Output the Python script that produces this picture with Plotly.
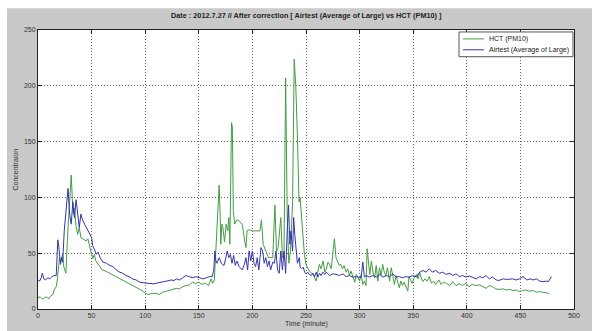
import plotly.graph_objects as go

# ---------------- data ----------------
hct_t = [0, 2, 4, 6, 8, 10, 12, 14, 15, 17, 18, 20, 21, 23, 24, 26, 27, 28, 29.5, 31, 32, 33, 34, 35.5, 37, 38.5,
         40, 42, 45, 46.5, 48, 50, 51, 52.5, 54, 57, 60, 63, 67, 70, 73, 76, 79, 82, 85, 88, 91, 94, 98, 100,
         103, 106, 110, 113, 116, 120, 124, 129, 132, 135, 138, 141, 144, 147, 150, 153, 156, 159, 161.5, 163,
         164.5, 166, 168, 169, 170, 170.5, 171.5, 172.5, 174, 175.5, 177, 178, 179, 180.5, 181.3, 182.2, 183.5,
         185.5, 187.5, 190.5, 193, 194, 195, 197, 200, 203, 207, 208.5, 210, 212.5, 215, 219, 221, 222.5, 224,
         226.5, 228, 229.5, 231, 232.5, 234, 235.5, 237.5, 239, 240.5, 242, 243.5, 244.5, 245.5, 247, 248.5,
         250, 251.5, 253, 256.5, 258, 259.5, 261, 262.5, 264, 266, 267.5, 269, 270.5, 272, 273.5, 275, 276.5,
         278, 279.5, 281, 282.5, 284, 285.5, 287.5, 289, 290.5, 292, 294, 295.5, 297, 298.5, 300, 301.5, 303,
         304.5, 306, 307, 308, 309.5, 311, 312.5, 314, 315.5, 317, 318.5, 320, 321.5, 323, 324.5, 326, 328,
         329.5, 331, 332.5, 334, 335.5, 337, 338.5, 340, 341.5, 343.5, 345, 346, 347.5, 349, 351, 353, 354.5,
         356, 357.5, 359, 361, 363, 365, 367, 369, 371, 374, 376, 378, 381, 384, 387, 390, 393, 396, 399, 402,
         405, 408, 412, 415, 418, 421, 424, 427, 430, 434, 437, 440, 443, 446, 449, 452, 455, 458, 462, 465,
         468, 471, 474, 477]
hct_v = [10, 11, 9, 10, 11, 9, 12, 13, 17, 20, 26, 46, 42, 49, 38, 32, 55, 73, 96, 120, 99, 85, 90, 74, 67, 73,
         64, 63, 61, 63, 58, 49, 45, 49, 43, 39, 35, 34, 32, 30, 29, 27, 26, 24, 23, 21, 20, 18, 16, 14,
         13, 14, 14, 13, 15, 16, 17, 18.5, 18, 20, 21, 21.5, 24, 23, 24, 22, 23, 21, 27, 23,
         26, 53, 82, 111, 82, 58, 76, 73, 60, 76, 70, 82, 58, 167, 163, 88, 76,
         80, 79, 76, 60, 55, 70, 71, 70, 70, 70, 80, 58, 52, 46, 46, 93, 52, 55,
         82, 46, 52, 207, 82, 41, 52, 96, 224, 199, 155, 96, 100, 85, 70, 49,
         40, 37, 34, 31, 28, 25, 33, 40, 36, 43, 33, 36, 42, 40, 36, 52, 63,
         46, 43, 39, 40, 36, 39, 33, 36, 30, 34, 28, 24, 31, 28, 25, 31, 22,
         25, 21, 54, 43, 31, 43, 33, 28, 39, 25, 37, 30, 40, 33, 30, 37, 25,
         37, 28, 22, 30, 24, 19, 25, 21, 24, 19, 16, 29, 26, 23, 28, 31, 27,
         33, 28, 24.5, 27, 25, 29, 23, 25, 22, 26, 22, 24, 23, 21, 24.5, 21, 22.5, 21, 23, 20,
         22, 21, 21.5, 20, 18.5, 21, 20, 18, 17.6, 18, 17, 17.6, 16.5, 17, 15.6, 16.5, 17, 16, 16.5, 15,
         15.6, 15, 14.7, 13.5]

air_t = [0, 1.5, 3, 4, 5.5, 7, 9, 11, 13, 15, 17, 18.5, 19.5, 21, 22, 23, 24.5, 26, 28, 29.5, 31, 32.5, 34, 35.5,
         37, 38.5, 40, 41.5, 43.5, 45, 46.5, 48, 50, 51, 53, 54.5, 56, 58, 60.5, 64, 67, 70, 73, 76, 79, 82,
         85, 88, 91.5, 95, 98, 101, 105, 108, 112, 116, 120, 124, 127, 129, 132, 135, 138, 141, 144, 147.5,
         151, 154, 157, 160, 162.5, 164, 165, 166, 167, 169, 171, 173.5, 175, 176.5, 178, 179.5, 181, 182.5,
         184, 185.5, 187.5, 190.5, 192.5, 194, 195.5, 197, 198.5, 200, 201.5, 203, 204.5, 206, 208, 209.5,
         211, 212.5, 214, 215.5, 217, 219, 220.5, 222, 223.5, 225, 226.5, 228, 229.5, 231, 232.5, 233.7, 235,
         236, 237.5, 238.5, 239.5, 240.6, 242, 243.7, 244.5, 246, 247.5, 248.7, 250, 251.5, 253, 255, 256.5,
         258, 259.6, 261, 262.7, 264, 265.8, 267.5, 269, 272, 275, 278, 281, 284.5, 287.5, 290.5, 293.8, 297,
         300, 301.5, 303, 304.5, 306, 309, 312.4, 315.5, 318.6, 321.7, 325, 328, 331, 334, 337, 340, 343, 346,
         349.7, 353, 356, 359, 362, 365, 368, 371, 374.5, 377.5, 380.7, 384, 387, 390, 393, 396, 399, 402.5,
         405.6, 409, 412, 415, 418, 421, 424, 427.5, 430, 434, 437, 440, 443, 446, 449, 452.5, 456, 459, 462,
         465, 468, 471, 474, 476, 479]
air_v = [26, 25, 28, 32, 27, 26, 28, 27, 29, 30, 30, 62, 55, 40, 46, 42, 70, 90, 108, 85, 76, 96, 82, 98,
         85, 73, 85, 80, 76, 73, 70, 68, 64, 57, 52, 49, 51, 46, 42, 41, 39, 38, 35, 33, 32, 30,
         29, 27, 26, 24, 23.5, 23, 23, 22.5, 23.5, 24, 25, 26, 25.5, 27, 26, 28, 30, 29, 28, 29,
         28, 27, 28, 29, 29, 35, 52, 43, 41, 46, 41, 39, 45, 52, 46, 49, 41, 48,
         39, 43, 38, 35, 40, 46, 35, 52, 43, 52, 41, 38, 46, 35, 55, 52,
         41, 46, 38, 43, 35, 42, 41, 52, 35, 32, 52, 35, 52, 32, 70, 93, 58,
         70, 52, 82, 67, 52, 41, 46, 37.5, 36, 37.5, 33, 31.5, 33, 31, 30, 32,
         29, 33, 28.6, 32, 30, 33, 31, 33, 30, 31.5, 31, 30, 31.5, 29, 30, 28.6, 29,
         28, 28.6, 42, 28.6, 30, 28.6, 30, 28.6, 31, 28.6, 30, 29, 31.5, 28.6, 29, 28, 29, 28.6,
         30, 28.6, 33, 34.5, 33, 36, 33, 34.5, 32, 33, 31, 32, 30, 31.5, 29, 30, 28.6, 29.5,
         28.6, 27, 29, 28, 30, 27, 28.6, 26, 25.6, 27, 26.5, 26.5, 27, 26, 27, 29, 26, 27, 26,
         27, 25, 24.5, 25, 24.5, 29]

x_ticks = [0, 50, 100, 150, 200, 250, 300, 350, 400, 450, 500]
y_ticks = [0, 50, 100, 150, 200, 250]

series_names = ["HCT (PM10)", "Airtest (Average of Large)"]
series_colors = ["#449c44", "#3434aa"]

title_text = "Date : 2012.7.27 // After correction [ Airtest (Average of Large) vs HCT (PM10) ]"
x_label = "Time (minute)"
y_label = "Concentraion"

# ---------------- figure ----------------
W, H = 592, 331
L, R, T, B = 38, 18, 30, 19
pw, ph = W - L - R, H - T - B
FONT = "Liberation Sans"


def px_x(p):
    return (p - L) / pw


def px_y(p):
    return (H - B - p) / ph


fig = go.Figure()
for tx, vy, nm, col in [(hct_t, hct_v, series_names[0], series_colors[0]),
                        (air_t, air_v, series_names[1], series_colors[1])]:
    fig.add_trace(go.Scatter(x=tx, y=vy, mode="lines", name=nm,
                             line=dict(color=col, width=1)))

gray = "#c9c9c9"
axis_common = dict(showline=True, linecolor="#222", linewidth=1, mirror="ticks",
                   ticks="inside", ticklen=4, tickcolor="#222",
                   showgrid=True, gridcolor="#666", griddash="1px,2px", gridwidth=1,
                   zeroline=False, tickfont=dict(family=FONT, size=7, color="#333"))

fig.update_layout(
    width=W, height=H,
    margin=dict(l=L, r=R, t=T, b=B, pad=0),
    paper_bgcolor=gray, plot_bgcolor="white",
    showlegend=False,
    xaxis=dict(range=[0, 500], tickvals=x_ticks, **axis_common),
    yaxis=dict(range=[0, 250], tickvals=y_ticks, **axis_common),
    font=dict(family=FONT),
)

# white outer border strips (top and left)
fig.add_shape(type="rect", xref="paper", yref="paper", x0=px_x(-5), x1=px_x(W + 5),
              y0=px_y(8), y1=px_y(-5), fillcolor="white", line=dict(width=0), layer="below")
fig.add_shape(type="rect", xref="paper", yref="paper", x0=px_x(-5), x1=px_x(7),
              y0=px_y(H + 5), y1=px_y(-5), fillcolor="white", line=dict(width=0), layer="below")

# compact legend box (MATLAB style)
lx0, lx1, ly0, ly1 = 459, 573, 32, 57
fig.add_shape(type="rect", xref="paper", yref="paper", x0=px_x(lx0), x1=px_x(lx1),
              y0=px_y(ly1), y1=px_y(ly0), fillcolor="white",
              line=dict(color="#555", width=1), layer="above")
for i, (nm, col) in enumerate(zip(series_names, series_colors)):
    yy = 39 + i * 11
    fig.add_shape(type="line", xref="paper", yref="paper", x0=px_x(463), x1=px_x(484),
                  y0=px_y(yy), y1=px_y(yy), line=dict(color=col, width=1), layer="above")
    fig.add_annotation(text=nm, xref="paper", yref="paper", x=px_x(487), y=px_y(yy),
                       xanchor="left", yanchor="middle", showarrow=False,
                       font=dict(family=FONT, size=7, color="#222"))

fig.add_annotation(text="<b>" + title_text + "</b>", xref="paper", yref="paper",
                   x=0.5, y=px_y(15), xanchor="center", yanchor="middle", showarrow=False,
                   font=dict(family=FONT, size=7.3, color="#222"))
fig.add_annotation(text=x_label, xref="paper", yref="paper",
                   x=0.5, y=px_y(332), xanchor="center", yanchor="bottom", showarrow=False,
                   borderpad=0, font=dict(family=FONT, size=7, color="#333"))
fig.add_annotation(text=y_label, xref="paper", yref="paper", textangle=-90,
                   x=px_x(15), y=0.5, xanchor="center", yanchor="middle", showarrow=False,
                   font=dict(family=FONT, size=7, color="#333"))

fig.write_html("out.html")
